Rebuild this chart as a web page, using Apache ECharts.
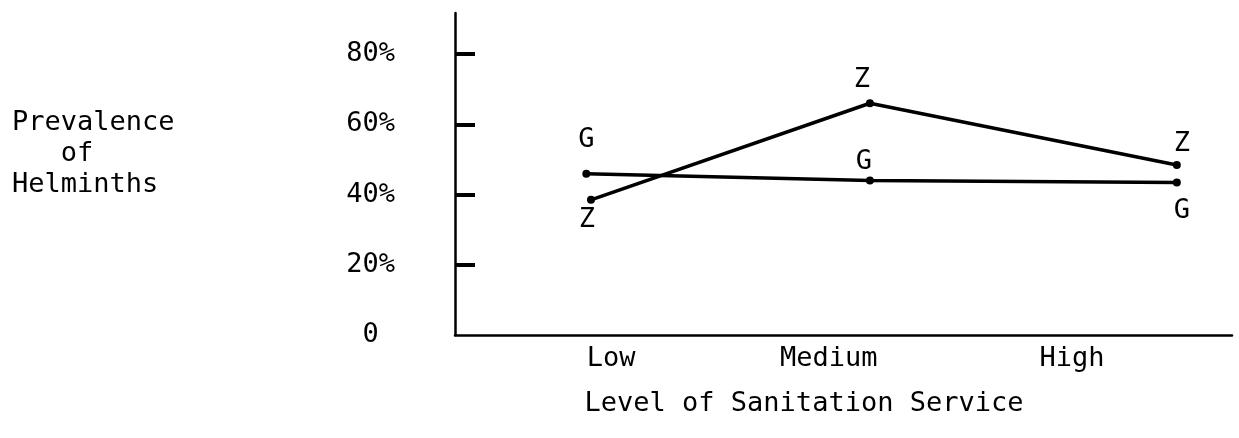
<!DOCTYPE html>
<html lang="en">
<head>
    <meta charset="UTF-8">
    <title>Prevalence of Helminths</title>
    <script type="text/javascript" src="https://cdn.jsdelivr.net/npm/echarts@6/dist/echarts.min.js"></script>
    <style>
        html, body { margin: 0; padding: 0; background: #fff; }
        #chart { width: 1239px; height: 438px; }
    </style>
</head>
<body>
<div id="chart"></div>
<script type="text/javascript">
    // sanitation levels and where their labels sit on the x scale (0-100)
    var levels = ['Low', 'Medium', 'High'];
    var levelLabelPos = [20.1, 48.1, 79.4];
    // where each level's point was plotted on the same scale
    var zPos = [17.5, 53.4, 92.9];
    var gPos = [16.9, 53.4, 92.9];
    // prevalence (%)
    var zValues = [38.5, 66.0, 48.4];
    var gValues = [45.9, 44.0, 43.4];
    var yTicks = [0, 20, 40, 60, 80];

    // label placement for each point (dx, dy from the point)
    var zLabelOff = [[-4, 20], [-8, -23], [5, -21]];
    var gLabelOff = [[0, -34], [-6, -19], [5, 28]];

    var font = 'DejaVu Sans Mono';
    var fs = 27;

    function pts(xs, ys, name, offs) {
        var out = [];
        for (var i = 0; i < xs.length; i++) {
            out.push({
                value: [xs[i], ys[i]],
                label: {show: true, position: 'inside', offset: offs[i], formatter: name}
            });
        }
        return out;
    }

    var mychart = echarts.init(document.getElementById('chart'));
    var option = {
        backgroundColor: '#fff',
        animation: false,
        textStyle: {fontFamily: font, color: '#000'},
        grid: {left: 455, right: 7, top: 13, bottom: 103},
        xAxis: {
            type: 'value', min: 0, max: 100,
            axisLine: {show: true, lineStyle: {color: '#000', width: 2.5}},
            axisTick: {show: false},
            splitLine: {show: false},
            axisLabel: {
                customValues: levelLabelPos,
                margin: 10,
                fontFamily: font, fontSize: fs, color: '#000',
                formatter: function (v) {
                    return levels[levelLabelPos.indexOf(v)];
                }
            },
            name: 'Level of Sanitation Service',
            nameLocation: 'middle',
            nameGap: 55,
            nameTextStyle: {fontFamily: font, fontSize: fs, color: '#000', padding: [0, 79, 0, 0]}
        },
        yAxis: {
            type: 'value', min: 0, max: 91.7,
            axisLine: {show: true, lineStyle: {color: '#000', width: 2.5}},
            axisTick: {show: true, inside: true, length: 20, customValues: [20, 40, 60, 80],
                lineStyle: {color: '#000', width: 4}},
            splitLine: {show: false},
            axisLabel: {
                customValues: yTicks,
                margin: 60,
                fontFamily: font, fontSize: fs, color: '#000',
                padding: [8, 0, 0, 0],
                formatter: function (v) {
                    return v === 0 ? '0 ' : v + '%';
                }
            }
        },
        graphic: [
            {type: 'text', left: 12, top: 107,
                style: {text: 'Prevalence\n   of\nHelminths', font: fs + 'px "' + font + '"',
                    lineHeight: 31, fill: '#000'}}
        ],
        series: [
            {
                name: 'Z', type: 'line',
                data: pts(zPos, zValues, 'Z', zLabelOff),
                symbol: 'circle', symbolSize: 8,
                itemStyle: {color: '#000'},
                lineStyle: {color: '#000', width: 3.5},
                label: {fontFamily: font, fontSize: fs, color: '#000'}
            },
            {
                name: 'G', type: 'line',
                data: pts(gPos, gValues, 'G', gLabelOff),
                symbol: 'circle', symbolSize: 8,
                itemStyle: {color: '#000'},
                lineStyle: {color: '#000', width: 3.5},
                label: {fontFamily: font, fontSize: fs, color: '#000'}
            }
        ]
    };
    mychart.setOption(option);
</script>
</body>
</html>
